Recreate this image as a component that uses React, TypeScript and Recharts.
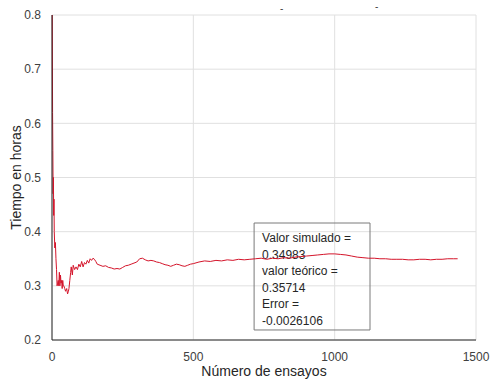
import React from "react";
import {
  LineChart,
  Line,
  XAxis,
  YAxis,
  CartesianGrid,
  ReferenceArea,
} from "recharts";

// ensayo number and running average (hours)
const trials = [
  1, 2, 3, 4, 5, 6, 7, 8, 10, 12, 14, 16, 18, 20, 22, 24, 26, 28, 30, 32, 34, 36, 38, 40,
  42, 45, 48, 52, 55, 58, 60, 63, 66, 68, 72, 75, 80, 85, 90, 95, 100, 105, 110, 115, 120,
  125, 130, 135, 140, 145, 150, 155, 160, 170, 180, 190, 200, 210, 220, 230, 240, 250, 260,
  270, 280, 290, 300, 310, 320, 330, 340, 350, 360, 370, 380, 390, 400, 410, 420, 430, 440,
  450, 460, 470, 480, 490, 500, 520, 540, 560, 580, 600, 620, 640, 660, 680, 700, 720, 740,
  760, 780, 800, 820, 840, 860, 880, 900, 920, 940, 960, 980, 1000, 1020, 1040, 1060, 1080,
  1100, 1120, 1140, 1160, 1180, 1200, 1220, 1240, 1260, 1280, 1300, 1320, 1340, 1360, 1380,
  1400, 1420, 1435,
];
const tiempo = [
  0.8, 0.62, 0.55, 0.47, 0.5, 0.43, 0.46, 0.4, 0.37, 0.38, 0.35, 0.33, 0.3, 0.305, 0.31, 0.3,
  0.325, 0.3, 0.32, 0.305, 0.31, 0.295, 0.31, 0.3, 0.3, 0.295, 0.29, 0.295, 0.285, 0.29, 0.295,
  0.31, 0.325, 0.335, 0.32, 0.338, 0.33, 0.335, 0.33, 0.34, 0.335, 0.345, 0.335, 0.343, 0.34,
  0.347, 0.342, 0.35, 0.347, 0.351, 0.349, 0.345, 0.34, 0.338, 0.336, 0.337, 0.334, 0.333,
  0.331, 0.332, 0.331, 0.334, 0.337, 0.338, 0.34, 0.342, 0.344, 0.35, 0.351, 0.348, 0.346,
  0.347, 0.346, 0.344, 0.343, 0.341, 0.339, 0.338, 0.336, 0.338, 0.34, 0.339, 0.337, 0.336,
  0.338, 0.34, 0.341, 0.344, 0.346, 0.345, 0.347, 0.346, 0.348, 0.347, 0.349, 0.348, 0.349,
  0.35, 0.351, 0.349, 0.351, 0.35, 0.352, 0.351, 0.353, 0.354, 0.355, 0.356, 0.357, 0.358,
  0.359, 0.359, 0.358, 0.357, 0.355, 0.353, 0.352, 0.351, 0.351, 0.35, 0.35, 0.349, 0.349,
  0.349, 0.348, 0.348, 0.349, 0.349, 0.348, 0.349, 0.349, 0.35, 0.35, 0.35,
];
const xTicks = [0, 500, 1000, 1500];
const yTicks = [0.2, 0.3, 0.4, 0.5, 0.6, 0.7, 0.8];
const boxLines = [
  "Valor simulado =",
  "0.34983",
  "valor teórico =",
  "0.35714",
  "Error =",
  "-0.0026106",
];

const data = trials.map((t, i) => ({ n: t, v: tiempo[i] }));

const FONT = '"Liberation Sans", Arial, Helvetica, sans-serif';
const AXIS = "#262626";
const TICK = { fill: "#404040", fontSize: 12, fontFamily: FONT };

const BoxLabel = (props: any) => {
  const vb = props.viewBox || {};
  return (
    <g>
      {boxLines.map((l, i) => (
        <text
          key={i}
          x={vb.x + 8}
          y={vb.y + 19 + i * 16.6}
          fontSize={12}
          fontFamily={FONT}
          fill="#262626"
        >
          {l}
        </text>
      ))}
    </g>
  );
};

export default function App() {
  return (
    <div
      style={{
        position: "fixed",
        left: 0,
        top: 0,
        width: 490,
        height: 381,
        background: "#fff",
        fontFamily: FONT,
      }}
    >
      <LineChart
        width={490}
        height={381}
        data={data}
        margin={{ top: 15, right: 14, left: 0, bottom: 0 }}
      >
        <CartesianGrid stroke="#e0e0e0" strokeWidth={1} />
        <XAxis
          dataKey="n"
          type="number"
          domain={[0, 1500]}
          ticks={xTicks}
          height={41}
          tick={TICK}
          tickLine={false}
          axisLine={{ stroke: AXIS }}
          tickMargin={6}
          label={{
            value: "Número de ensayos",
            position: "insideBottom",
            offset: 5,
            fill: "#262626",
            fontSize: 14,
            fontFamily: FONT,
          }}
        />
        <XAxis
          xAxisId="top"
          orientation="top"
          dataKey="n"
          type="number"
          domain={[0, 1500]}
          height={0}
          tick={false}
          tickLine={false}
          axisLine={{ stroke: AXIS }}
        />
        <YAxis
          type="number"
          domain={[0.2, 0.8]}
          ticks={yTicks}
          width={52}
          tick={TICK}
          tickLine={false}
          axisLine={{ stroke: AXIS }}
          tickMargin={5}
          tickFormatter={(v: number) => v.toFixed(1)}
          label={{
            value: "Tiempo en horas",
            angle: -90,
            position: "insideLeft",
            offset: 16,
            fill: "#262626",
            fontSize: 14,
            fontFamily: FONT,
            style: { textAnchor: "middle" },
          }}
        />
        <YAxis
          yAxisId="right"
          orientation="right"
          type="number"
          domain={[0.2, 0.8]}
          width={0}
          tick={false}
          tickLine={false}
          axisLine={{ stroke: AXIS }}
        />
        <Line
          type="linear"
          dataKey="v"
          stroke="#d4142a"
          strokeWidth={1}
          dot={false}
          isAnimationActive={false}
        />
        <ReferenceArea
          x1={715}
          x2={1125}
          y1={0.2185}
          y2={0.416}
          fill="none"
          stroke="#7a7a7a"
          strokeWidth={1}
          label={<BoxLabel />}
        />
      </LineChart>
      <span style={{ position: "absolute", left: 280, top: 3, fontSize: 10, color: "#404040" }}>-</span>
      <span style={{ position: "absolute", left: 375, top: 1, fontSize: 10, color: "#404040" }}>-</span>
    </div>
  );
}
